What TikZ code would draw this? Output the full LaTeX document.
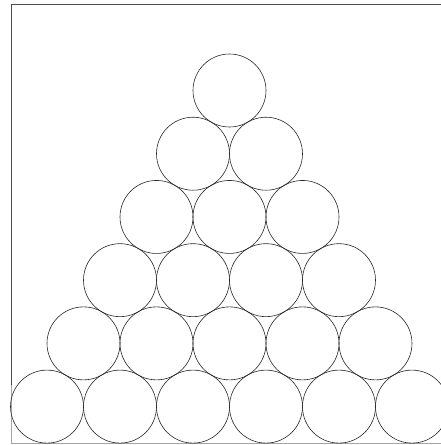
\documentclass[tikz,border=0pt]{standalone}
\begin{document}
\begin{tikzpicture}[x=1pt,y=-1pt,
  ball/.style={circle,draw=black!85,line width=0.6pt,minimum size=73pt,inner sep=0pt,outer sep=0pt},
  frameline/.style={draw=black!70,line width=0.7pt},
  faintline/.style={draw=black!35,line width=0.7pt}]
\useasboundingbox (0,0) rectangle (441,445);
\clip (0,0) rectangle (441,445);
\coordinate (tl) at (11,4);
\coordinate (tr) at (441,4);
\coordinate (lm) at (11,385);
\coordinate (bl) at (11,443);
\coordinate (br) at (441,443);
\draw[frameline] (tr) -- (tl) -- (lm);
\draw[faintline] (lm) -- (bl) -- (br);
\foreach \r in {0,...,5}{
  \foreach \k in {0,...,\r}{
    \node[ball] (c-\r-\k) at ({229.5+(\k-\r/2)*73},{90.5+\r*63.22}) {};
  }
}
\end{tikzpicture}
\end{document}
